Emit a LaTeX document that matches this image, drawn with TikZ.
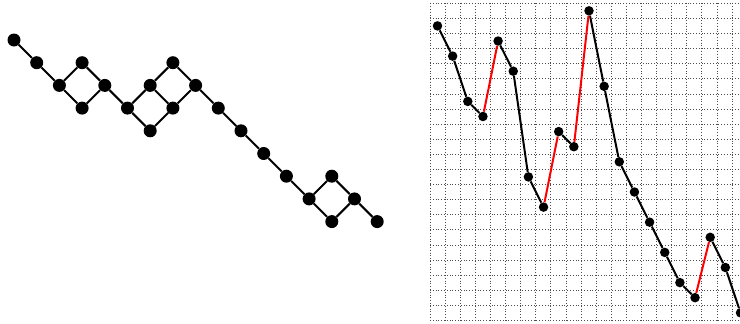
\documentclass[tikz,border=0pt]{standalone}
\begin{document}
\begin{tikzpicture}[x=1pt,y=-1pt,
  bigdot/.style={circle,fill=black,inner sep=0pt,minimum size=13pt},
  smalldot/.style={circle,fill=black,inner sep=0pt,minimum size=9.5pt},
  edge/.style={line width=2pt,black},
  upedge/.style={line width=2pt,red},
  gridline/.style={dotted,line width=0.8pt,black!70}]
\useasboundingbox (0,0) rectangle (740,324);
\clip (0,0) rectangle (740,324);
% grid
\foreach \k in {0,...,20} \draw[gridline] ({430+15.1*\k},3.3) -- ({430+15.1*\k},320.4);
\foreach \k in {0,...,21} \draw[gridline] (430,{3.3+15.1*\k}) -- (740,{3.3+15.1*\k});
% left lattice path
\foreach \i/\j in {0/0,1/1,2/2,3/1,3/3,4/2,5/3,6/2,6/4,7/1,7/3,8/2,9/3,10/4,11/5,12/6,13/7,14/6,14/8,15/7,16/8}
  \node[bigdot] (L\i-\j) at ({14+22.7*\i},{40+22.7*\j}) {};
\draw[edge] (L0-0) -- (L1-1) -- (L2-2) -- (L3-1) -- (L4-2) -- (L3-3) -- (L2-2);
\draw[edge] (L4-2) -- (L5-3) -- (L6-2) -- (L7-1) -- (L8-2) -- (L7-3) -- (L6-4) -- (L5-3);
\draw[edge] (L6-2) -- (L7-3);
\draw[edge] (L8-2) -- (L9-3) -- (L10-4) -- (L11-5) -- (L12-6) -- (L13-7) -- (L14-6) -- (L15-7) -- (L14-8) -- (L13-7);
\draw[edge] (L15-7) -- (L16-8);
% right permutation plot
\foreach \v [count=\k from 0] in {1,3,6,7,2,4,11,13,8,9,0,5,10,12,14,16,18,19,15,17,20}
  \node[smalldot] (R\k) at ({437.5+15.15*\k},{10.8+15.1*\v}) {};
\draw[edge] (R0) -- (R1) -- (R2) -- (R3);
\draw[edge] (R4) -- (R5) -- (R6) -- (R7);
\draw[edge] (R8) -- (R9);
\draw[edge] (R10) -- (R11) -- (R12) -- (R13) -- (R14) -- (R15) -- (R16) -- (R17);
\draw[edge] (R18) -- (R19) -- (R20);
\draw[upedge] (R3) -- (R4);
\draw[upedge] (R7) -- (R8);
\draw[upedge] (R9) -- (R10);
\draw[upedge] (R17) -- (R18);
\end{tikzpicture}
\end{document}
